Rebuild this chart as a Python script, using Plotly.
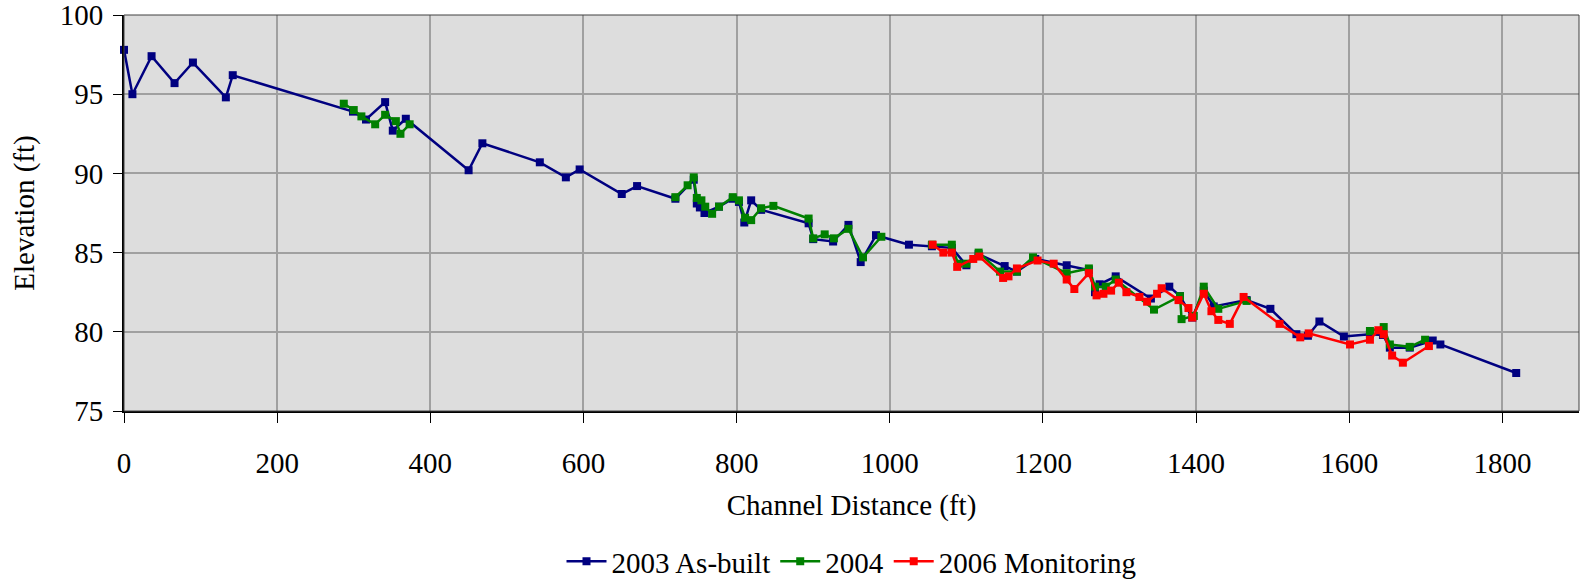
import plotly.graph_objects as go

# 2003 As-built
x2003 = [0, 11, 36, 66, 90, 133, 142, 299, 316, 341, 351, 368, 450, 468, 543, 577, 595,
         650, 670, 720, 744, 748, 752, 758, 777, 795, 803, 810, 819, 832, 894, 900, 926,
         946, 962, 982, 1025, 1055, 1081, 1100, 1116, 1150, 1166, 1190, 1231, 1260, 1268,
         1274, 1295, 1341, 1365, 1379, 1395, 1410, 1423, 1466, 1497, 1531, 1546, 1561,
         1593, 1627, 1644, 1653, 1679, 1709, 1719, 1818]
y2003 = [97.8, 95.0, 97.4, 95.7, 97.0, 94.8, 96.2, 93.9, 93.4, 94.5, 92.7, 93.45, 90.2, 91.9,
         90.7, 89.75, 90.25, 88.7, 89.2, 88.4, 89.6, 88.1, 87.85, 87.5, 87.9, 88.4, 88.2,
         86.9, 88.3, 87.7, 86.85, 85.85, 85.7, 86.75, 84.4, 86.1, 85.5, 85.4, 85.3, 84.2,
         84.9, 84.15, 83.8, 84.6, 84.2, 83.9, 82.5, 83.0, 83.5, 82.1, 82.85, 82.25, 80.9,
         82.6, 81.6, 82.0, 81.45, 79.85, 79.75, 80.65, 79.7, 79.85, 79.8, 79.0, 79.0,
         79.45, 79.2, 77.4]

# 2004 (None = gap in survey)
x2004 = [287, 300, 310, 328, 341, 355, 361, 373, None,
         720, 736, 744, 748, 754, 759, 768, 777, 795, 803, 811, 819, 832, 848, 894, 900,
         915, 927, 946, 965, 989, None,
         1055, 1081, 1089, 1100, 1116, 1144, 1166, 1187, 1231, 1260, 1268, 1282, 1295,
         1345, 1379, 1381, 1397, 1410, 1429, 1466, None,
         1627, 1645, 1653, 1679, 1699]
y2004 = [94.4, 94.0, 93.6, 93.1, 93.7, 93.3, 92.5, 93.1, None,
         88.5, 89.25, 89.75, 88.45, 88.3, 87.9, 87.45, 87.9, 88.5, 88.3, 87.2, 87.05, 87.8,
         87.95, 87.15, 85.9, 86.15, 85.9, 86.5, 84.7, 86.0, None,
         85.5, 85.5, 84.3, 84.3, 85.0, 83.8, 83.8, 84.7, 83.7, 84.0, 82.85, 82.85, 83.3,
         81.4, 82.25, 80.8, 81.0, 82.85, 81.45, 81.95, None,
         80.05, 80.3, 79.2, 79.05, 79.5]

# 2006 Monitoring
x2006 = [1056, 1070, 1081, 1088, 1109, 1117, 1148, 1155, 1166, 1193, 1214, 1231, 1241, 1260,
         1270, 1279, 1289, 1299, 1309, 1326, 1336, 1349, 1355, 1377, 1390, 1395, 1410,
         1420, 1429, 1444, 1462, 1509, 1536, 1547, 1601, 1627, 1638, 1645, 1656, 1670, 1704]
y2006 = [85.5, 85.0, 85.0, 84.1, 84.6, 84.75, 83.4, 83.5, 84.0, 84.5, 84.3, 83.3, 82.7, 83.7,
         82.3, 82.4, 82.6, 83.1, 82.5, 82.2, 81.9, 82.4, 82.75, 82.0, 81.5, 80.9, 82.4,
         81.3, 80.75, 80.5, 82.2, 80.5, 79.65, 79.9, 79.2, 79.5, 80.1, 79.85, 78.5, 78.05, 79.1]

names = ["2003 As-built", "2004", "2006 Monitoring"]
colors = ["#000080", "#008000", "#FF0000"]

fig = go.Figure()
for xs, ys, nm, col in zip([x2003, x2004, x2006], [y2003, y2004, y2006], names, colors):
    fig.add_trace(go.Scatter(
        x=xs, y=ys, name=nm, mode="lines+markers",
        line=dict(color=col, width=2.5),
        marker=dict(symbol="square", size=8, color=col),
        connectgaps=False, cliponaxis=False,
    ))

font = dict(family="Liberation Serif, Times New Roman, serif", size=29, color="black")

fig.update_layout(
    width=1585, height=582,
    margin=dict(l=124, r=6, t=15, b=171, autoexpand=False),
    paper_bgcolor="white",
    plot_bgcolor="#DDDDDD",
    font=font,
    showlegend=True,
    legend=dict(orientation="h", x=0.5, xanchor="center", y=-0.38, yanchor="middle",
                font=font, itemwidth=40, tracegroupgap=0),
)
fig.update_xaxes(
    range=[0, 1900], dtick=200, tick0=0, automargin=False,
    showgrid=True, gridcolor="#A0A0A0", gridwidth=1.5,
    showline=True, linecolor="black", linewidth=2,
    ticks="outside", ticklen=10, tickcolor="black", tickwidth=1,
    ticklabelstandoff=15, ticklabeloverflow="allow",
    zeroline=False,
    title=dict(text="Channel Distance (ft)", font=font, standoff=17),
)
fig.update_yaxes(
    range=[75, 100], dtick=5, tick0=75, automargin=False,
    showgrid=True, gridcolor="#A0A0A0", gridwidth=1.5,
    showline=True, linecolor="black", linewidth=2,
    ticks="outside", ticklen=9, tickcolor="black", tickwidth=1,
    ticklabelstandoff=4, ticklabeloverflow="allow",
    zeroline=False,
    title=dict(text="Elevation (ft)", font=font, standoff=17),
)
fig.add_shape(type="rect", xref="paper", yref="paper", x0=0, y0=0, x1=1, y1=1,
              line=dict(color="#404040", width=1), fillcolor="rgba(0,0,0,0)", layer="above")

fig.write_html("out.html", config={"displayModeBar": False},
               post_script="document.body.style.margin='0';document.body.style.overflow='hidden';")
